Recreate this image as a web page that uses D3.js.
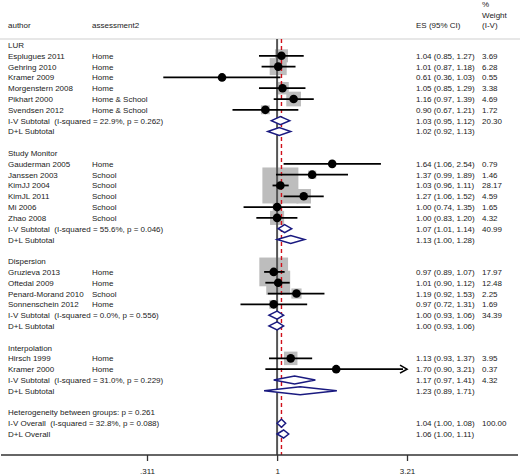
<!DOCTYPE html>
<html>
<head>
<meta charset="utf-8">
<script src="https://cdn.jsdelivr.net/npm/d3@7"></script>
<style>
html,body{margin:0;padding:0;background:#fff;}
svg{display:block;}
text{font-family:"Liberation Sans",Arial,sans-serif;font-size:8px;fill:#222;white-space:pre;}
</style>
</head>
<body>
<div id="chart"></div>
<script>
// ---------------- DATA ----------------
const groups = ["LUR", "Study Monitor", "Dispersion", "Interpolation"];

const studyAuthors = ["Esplugues 2011","Gehring 2010","Kramer 2009","Morgenstern 2008","Pikhart 2000","Svendsen 2012",
  "Gauderman 2005","Janssen 2003","KimJJ 2004","KimJL 2011","Mi 2006","Zhao 2008",
  "Gruzieva 2013","Oftedal 2009","Penard-Morand 2010","Sonnenschein 2012",
  "Hirsch 1999","Kramer 2000"];
const studyGroup = [0,0,0,0,0,0, 1,1,1,1,1,1, 2,2,2,2, 3,3];
const studyAssessment = ["Home","Home","Home","Home","Home & School","Home & School",
  "Home","School","School","School","School","School",
  "Home","Home","School","Home",
  "Home","Home"];
const studyES = [1.04,1.01,0.61,1.05,1.16,0.90, 1.64,1.37,1.03,1.27,1.00,1.00, 0.97,1.01,1.19,0.97, 1.13,1.70];
const studyLo = [0.85,0.87,0.36,0.85,0.97,0.67, 1.06,0.99,0.96,1.06,0.74,0.83, 0.89,0.90,0.92,0.72, 0.93,0.90];
const studyHi = [1.27,1.18,1.03,1.29,1.39,1.21, 2.54,1.89,1.11,1.52,1.35,1.20, 1.07,1.12,1.53,1.31, 1.37,3.21];
const studyWeight = [3.69,6.28,0.55,3.38,4.69,1.72, 0.79,1.46,28.17,4.59,1.65,4.32, 17.97,12.48,2.25,1.69, 3.95,0.37];

const ivSubLabels = ["I-V Subtotal  (I-squared = 22.9%, p = 0.262)",
  "I-V Subtotal  (I-squared = 55.6%, p = 0.046)",
  "I-V Subtotal  (I-squared = 0.0%, p = 0.556)",
  "I-V Subtotal  (I-squared = 31.0%, p = 0.229)"];
const ivSubES = [1.03,1.07,1.00,1.17];
const ivSubLo = [0.95,1.01,0.93,0.97];
const ivSubHi = [1.12,1.14,1.06,1.41];
const ivSubWeight = [20.30,40.99,34.39,4.32];
const dlSubES = [1.02,1.13,1.00,1.23];
const dlSubLo = [0.92,1.00,0.93,0.89];
const dlSubHi = [1.13,1.28,1.06,1.71];

const hetLabel = "Heterogeneity between groups: p = 0.261";
const ivOverallLabel = "I-V Overall  (I-squared = 32.8%, p = 0.088)";
const ivOverall = {es:1.04, lo:1.00, hi:1.08, w:100.00};
const dlOverall = {es:1.06, lo:1.00, hi:1.11};

const axisTicks = [0.311, 1, 3.21];
const axisTickLabels = [".311", "1", "3.21"];

// ---------------- BUILD ROWS ----------------
const rows = [];
groups.forEach((g, gi) => {
  rows.push({type:"group", label:g});
  studyAuthors.forEach((a, i) => {
    if (studyGroup[i] !== gi) return;
    rows.push({type:"study", label:a, assess:studyAssessment[i], es:studyES[i], lo:studyLo[i], hi:studyHi[i], w:studyWeight[i]});
  });
  rows.push({type:"diamond", label:ivSubLabels[gi], es:ivSubES[gi], lo:ivSubLo[gi], hi:ivSubHi[gi], w:ivSubWeight[gi]});
  rows.push({type:"diamond", label:"D+L Subtotal", es:dlSubES[gi], lo:dlSubLo[gi], hi:dlSubHi[gi]});
  rows.push({type:"blank"});
});
rows.push({type:"group", label:hetLabel});
rows.push({type:"diamond", label:ivOverallLabel, es:ivOverall.es, lo:ivOverall.lo, hi:ivOverall.hi, w:ivOverall.w});
rows.push({type:"diamond", label:"D+L Overall", es:dlOverall.es, lo:dlOverall.lo, hi:dlOverall.hi});

// ---------------- LAYOUT ----------------
const W = 520, H = 475;
const svg = d3.select("#chart").append("svg").attr("width", W).attr("height", H);

const x = d3.scaleLog().domain([axisTicks[0], axisTicks[2]]).range([147, 407]);
const y = d3.scaleLinear().domain([0, rows.length - 1]).range([45, 434]);
const fmt = d3.format(".2f");
const esText = d => `${fmt(d.es)} (${fmt(d.lo)}, ${fmt(d.hi)})`;

const colAuthor = 8, colAssess = 92, colES = 416, colW = 482;
const axisY = 455, topY = 39;
const sq = d3.scaleSqrt().domain([0, 28.17]).range([0, 36]);

// header
const hdr = svg.append("g");
hdr.append("text").attr("x", colAuthor).attr("y", 28).text("author");
hdr.append("text").attr("x", colAssess).attr("y", 28).text("assessment2");
hdr.append("text").attr("x", colES).attr("y", 28).text("ES (95% CI)");
hdr.append("text").attr("x", colW).attr("y", 7).text("%");
hdr.append("text").attr("x", colW).attr("y", 17.5).text("Weight");
hdr.append("text").attr("x", colW).attr("y", 28).text("(I-V)");
svg.append("line").attr("x1", 0).attr("x2", W).attr("y1", topY).attr("y2", topY)
  .attr("stroke", "#d0d0d0").attr("stroke-width", 1.2);

// squares (drawn first, behind lines)
const studies = rows.map((r, i) => ({...r, i})).filter(r => r.type === "study");
svg.append("g").selectAll("rect").data(studies).join("rect")
  .attr("x", d => x(d.es) - sq(d.w) / 2)
  .attr("y", d => y(d.i) - sq(d.w) / 2)
  .attr("width", d => sq(d.w))
  .attr("height", d => sq(d.w))
  .attr("fill", "#bdbdbd");

// null line
svg.append("line").attr("x1", x(1)).attr("x2", x(1)).attr("y1", topY).attr("y2", axisY)
  .attr("stroke", "#555").attr("stroke-width", 2);
// overall dashed line
svg.append("line").attr("x1", x(ivOverall.es)).attr("x2", x(ivOverall.es)).attr("y1", topY).attr("y2", axisY)
  .attr("stroke", "#d0101a").attr("stroke-width", 1.4).attr("stroke-dasharray", "4,3");

// CI lines
const xmax = axisTicks[2];
svg.append("g").selectAll("line").data(studies).join("line")
  .attr("x1", d => x(d.lo)).attr("x2", d => x(Math.min(d.hi, xmax)) - (d.hi >= xmax ? 4 : 0))
  .attr("y1", d => y(d.i)).attr("y2", d => y(d.i))
  .attr("stroke", "#000").attr("stroke-width", 1.8);
// arrows for truncated CIs
svg.append("g").selectAll("path").data(studies.filter(d => d.hi >= xmax)).join("path")
  .attr("d", d => {
    const xe = x(xmax), yy = y(d.i);
    return `M${xe - 7},${yy - 4} L${xe},${yy} L${xe - 7},${yy + 4}`;
  })
  .attr("fill", "none").attr("stroke", "#000").attr("stroke-width", 1.6);
// dots
svg.append("g").selectAll("circle").data(studies).join("circle")
  .attr("cx", d => x(d.es)).attr("cy", d => y(d.i)).attr("r", 4.3).attr("fill", "#000");

// diamonds
const diamonds = rows.map((r, i) => ({...r, i})).filter(r => r.type === "diamond");
svg.append("g").selectAll("path").data(diamonds).join("path")
  .attr("d", d => {
    const yy = y(d.i), h = 4;
    return `M${x(d.lo)},${yy} L${x(d.es)},${yy - h} L${x(d.hi)},${yy} L${x(d.es)},${yy + h} Z`;
  })
  .attr("fill", "#fff").attr("stroke", "#1a1a80").attr("stroke-width", 1.5);

// row text
const rowText = svg.append("g");
rows.forEach((r, i) => {
  const yy = y(i) + 3;
  if (r.type === "blank") return;
  rowText.append("text").attr("x", colAuthor).attr("y", yy).text(r.label);
  if (r.type === "study") rowText.append("text").attr("x", colAssess).attr("y", yy).text(r.assess);
  if (r.type === "study" || r.type === "diamond") {
    rowText.append("text").attr("x", colES).attr("y", yy).text(esText(r));
    if (r.w !== undefined) rowText.append("text").attr("x", colW).attr("y", yy).text(fmt(r.w));
  }
});

// x axis
svg.append("line").attr("x1", 1).attr("x2", 518).attr("y1", axisY).attr("y2", axisY)
  .attr("stroke", "#333").attr("stroke-width", 1.5);
const axisG = svg.append("g").attr("transform", `translate(0,${axisY})`)
  .call(d3.axisBottom(x).tickValues(axisTicks).tickFormat((d, i) => axisTickLabels[i]).tickSize(6).tickSizeOuter(0));
axisG.select(".domain").remove();
axisG.selectAll(".tick line").attr("stroke", "#333").attr("stroke-width", 1.3);
axisG.selectAll(".tick text").attr("dy", 0).attr("y", 19).style("font-size", "8px")
  .style("font-family", "Liberation Sans, Arial, sans-serif").attr("fill", "#222");
</script>
</body>
</html>
